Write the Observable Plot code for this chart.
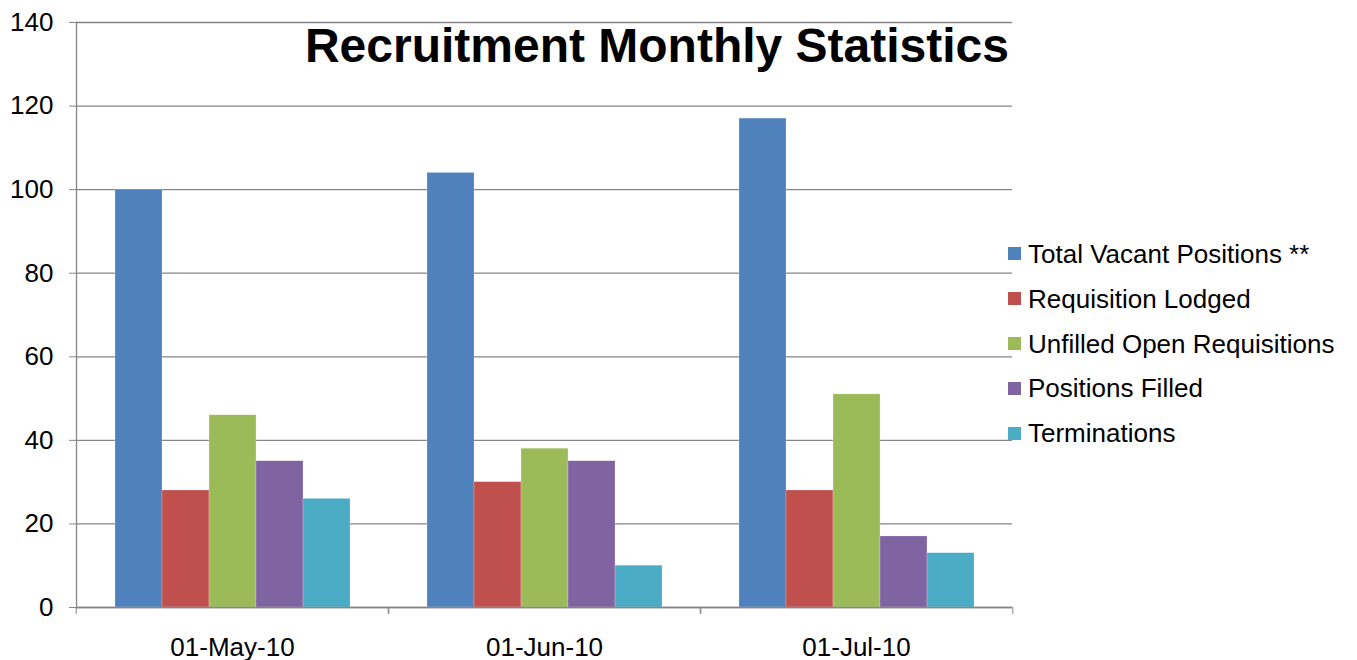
<!DOCTYPE html>
<html>
<head>
<meta charset="utf-8">
<script src="https://cdn.jsdelivr.net/npm/d3@7"></script>
<script src="https://cdn.jsdelivr.net/npm/@observablehq/plot@0.6"></script>
<style>
  html, body { margin: 0; padding: 0; background: white; }
  #wrap { position: relative; width: 1357px; height: 660px; font-family: "Liberation Sans", Arial, sans-serif; }
  #title { position: absolute; left: 0; width: 1009px; top: 22px; text-align: right; font-size: 48px; line-height: 48px; font-weight: bold; color: black; white-space: nowrap; }
  #legend { position: absolute; left: 1008px; top: 231.6px; }
  .row { display: flex; align-items: center; height: 44.8px; font-size: 26px; line-height: 26px; white-space: nowrap; color: black; }
  .sw { width: 13px; height: 13px; margin-right: 7px; flex: none; }
</style>
</head>
<body>
<div id="wrap">
  <div id="chart"></div>
  <div id="title">Recruitment Monthly Statistics</div>
  <div id="legend"></div>
</div>
<script>
const months = ["01-May-10", "01-Jun-10", "01-Jul-10"];
const seriesNames = ["Total Vacant Positions **", "Requisition Lodged", "Unfilled Open Requisitions", "Positions Filled", "Terminations"];
const totalVacant = [100, 104, 117];
const requisitionLodged = [28, 30, 28];
const unfilledOpen = [46, 38, 51];
const positionsFilled = [35, 35, 17];
const terminations = [26, 10, 13];
const colors = ["#4F81BD", "#C0504D", "#9BBB59", "#8064A2", "#4BACC6"];
const yTicks = [0, 20, 40, 60, 80, 100, 120, 140];

const seriesValues = [totalVacant, requisitionLodged, unfilledOpen, positionsFilled, terminations];
const rows = months.flatMap((m, i) => seriesNames.map((s, j) => ({month: m, series: s, value: seriesValues[j][i]})));

const W = 1357, mL = 75, mR = 344;
const facetW = (W - mL - mR) / months.length;

const chart = Plot.plot({
  width: W, height: 660,
  marginLeft: mL, marginRight: mR, marginTop: 22, marginBottom: 53,
  style: {fontFamily: "'Liberation Sans', Arial, sans-serif", fontSize: "26px", color: "black", background: "white", overflow: "visible"},
  fx: {domain: months, padding: 0, label: null},
  x: {domain: seriesNames, axis: null, paddingInner: 0, paddingOuter: 0.76},
  y: {domain: [0, 140], label: null},
  color: {domain: seriesNames, range: colors},
  marks: [
    Plot.gridY(yTicks, {stroke: "#868686", strokeOpacity: 1, strokeWidth: 1.3}),
    Plot.barY(rows, {fx: "month", x: "series", y: "value", fill: "series", stroke: "white", strokeOpacity: 0.35, strokeWidth: 0.6}),
    Plot.ruleY([0], {stroke: "#868686", strokeWidth: 1.3}),
    Plot.frame({anchor: "left", facetAnchor: "left", stroke: "#868686", strokeWidth: 1.3}),
    Plot.axisY(yTicks, {tickSize: 7, tickPadding: 16, stroke: "#868686", fill: "black", label: null}),
    Plot.axisFx({anchor: "bottom", tickSize: 0, tickPadding: 30, label: null, fill: "black"}),
    Plot.axisFx({anchor: "bottom", tickSize: 7, tickFormat: () => "", dx: -facetW / 2, label: null, stroke: "#868686"}),
    Plot.axisFx({anchor: "bottom", tickSize: 7, tickFormat: () => "", dx: facetW / 2, label: null, stroke: "#868686"})
  ]
});
document.getElementById("chart").appendChild(chart);

const legend = document.getElementById("legend");
seriesNames.forEach((s, j) => {
  const row = document.createElement("div");
  row.className = "row";
  const sw = document.createElement("div");
  sw.className = "sw";
  sw.style.background = colors[j];
  const t = document.createElement("span");
  t.textContent = s;
  row.appendChild(sw);
  row.appendChild(t);
  legend.appendChild(row);
});
</script>
</body>
</html>
